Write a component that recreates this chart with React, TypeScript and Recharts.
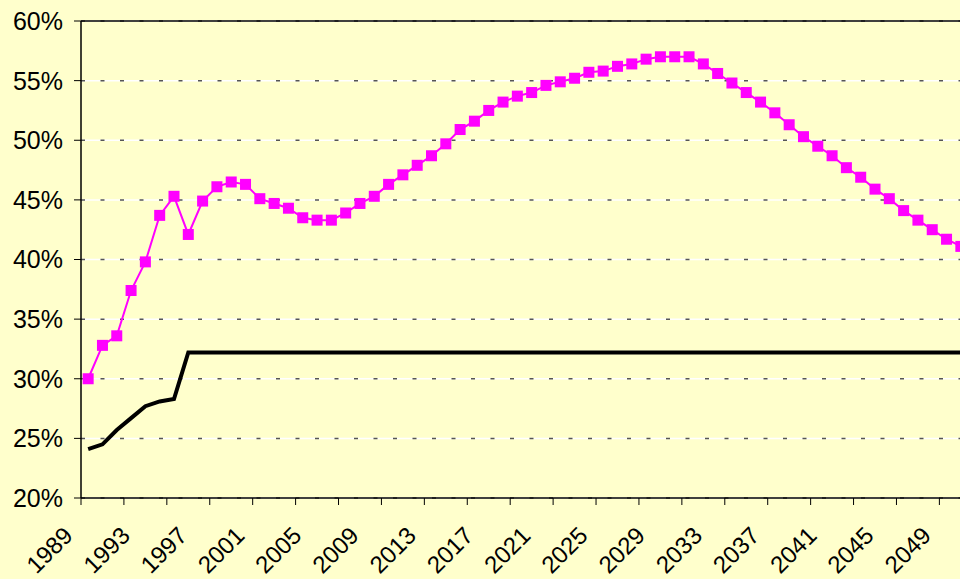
import React from "react";
import { LineChart, Line, XAxis, YAxis, CartesianGrid, ReferenceLine } from "recharts";

const years = [
  1989, 1990, 1991, 1992, 1993, 1994, 1995, 1996, 1997, 1998, 1999, 2000, 2001, 2002, 2003, 2004,
  2005, 2006, 2007, 2008, 2009, 2010, 2011, 2012, 2013, 2014, 2015, 2016, 2017, 2018, 2019, 2020,
  2021, 2022, 2023, 2024, 2025, 2026, 2027, 2028, 2029, 2030, 2031, 2032, 2033, 2034, 2035, 2036,
  2037, 2038, 2039, 2040, 2041, 2042, 2043, 2044, 2045, 2046, 2047, 2048, 2049, 2050,
];

const magentaSeries = [
  30.0, 32.8, 33.6, 37.4, 39.8, 43.7, 45.3, 42.1, 44.9, 46.1, 46.5, 46.3, 45.1, 44.7, 44.3, 43.5,
  43.3, 43.3, 43.9, 44.7, 45.3, 46.3, 47.1, 47.9, 48.7, 49.7, 50.9, 51.6, 52.5, 53.2, 53.7, 54.0,
  54.6, 54.9, 55.2, 55.7, 55.8, 56.2, 56.4, 56.8, 57.0, 57.0, 57.0, 56.4, 55.6, 54.8, 54.0, 53.2,
  52.3, 51.3, 50.3, 49.5, 48.7, 47.7, 46.9, 45.9, 45.1, 44.1, 43.3, 42.5, 41.7, 41.1,
];

const blackSeries = [
  24.1, 24.5, 25.7, 26.7, 27.7, 28.1, 28.3, 32.2, 32.2, 32.2, 32.2, 32.2, 32.2, 32.2, 32.2, 32.2,
  32.2, 32.2, 32.2, 32.2, 32.2, 32.2, 32.2, 32.2, 32.2, 32.2, 32.2, 32.2, 32.2, 32.2, 32.2, 32.2,
  32.2, 32.2, 32.2, 32.2, 32.2, 32.2, 32.2, 32.2, 32.2, 32.2, 32.2, 32.2, 32.2, 32.2, 32.2, 32.2,
  32.2, 32.2, 32.2, 32.2, 32.2, 32.2, 32.2, 32.2, 32.2, 32.2, 32.2, 32.2, 32.2, 32.2,
];

const yTicks = [20, 25, 30, 35, 40, 45, 50, 55, 60];
const labelYears = [1989, 1993, 1997, 2001, 2005, 2009, 2013, 2017, 2021, 2025, 2029, 2033, 2037, 2041, 2045, 2049];
const tickMarkYears = [
  1988.5, 1991.5, 1994.5, 1997.5, 2000.5, 2003.5, 2006.5, 2009.5, 2012.5, 2015.5, 2018.5,
  2021.5, 2024.5, 2027.5, 2030.5, 2033.5, 2036.5, 2039.5, 2042.5, 2045.5, 2048.5,
];

const data = years.map((year, i) => ({ year, magenta: magentaSeries[i], black: blackSeries[i] }));

const FONT = "Arial, 'Liberation Sans', sans-serif";
const MAGENTA = "#FF00FF";

const XTick = (props: any) => {
  const { x, y, payload } = props;
  const v = payload.value;
  if (!Number.isInteger(v)) {
    return <line x1={x} y1={y} x2={x} y2={y + 7} stroke="#000" strokeWidth={1} />;
  }
  const tx = x - 14;
  const ty = y + 39;
  return (
    <text
      x={tx}
      y={ty}
      transform={`rotate(-45, ${tx}, ${ty})`}
      textAnchor="end"
      fontFamily={FONT}
      fontSize={24}
      fill="#000"
    >
      {v}
    </text>
  );
};

const SquareDot = (props: any) => {
  const { cx, cy, index } = props;
  if (cx == null || cy == null) return <g key={`d${index}`} />;
  return <rect key={`d${index}`} x={cx - 5.5} y={cy - 5.5} width={11} height={11} fill={MAGENTA} />;
};

export default function App() {
  return (
    <div
      style={{
        position: "fixed",
        left: 0,
        top: 0,
        width: 960,
        height: 579,
        overflow: "hidden",
        background: "#FFFFCC",
      }}
    >
      <LineChart width={968} height={579} data={data} margin={{ top: 21, right: 0, left: 0, bottom: 0 }}>
        <CartesianGrid vertical={false} stroke="#FFFFFF" strokeWidth={1.5} />
        <CartesianGrid vertical={false} stroke="#555555" strokeDasharray="4 15.5" strokeWidth={1.5} />
        <XAxis
          dataKey="year"
          type="number"
          domain={[1988.5, 2050.5]}
          ticks={[...tickMarkYears, ...labelYears]}
          interval={0}
          allowDataOverflow
          tickLine={false}
          tickSize={0}
          tickMargin={0}
          tick={<XTick />}
          axisLine={{ stroke: "#000", strokeWidth: 1.5 }}
          height={81}
        />
        <YAxis
          domain={[20, 60]}
          ticks={yTicks}
          interval={0}
          width={81}
          tickSize={7}
          tickMargin={11}
          tickFormatter={(v: number) => `${v}%`}
          tick={{ fontFamily: FONT, fontSize: 25, fill: "#000" }}
          tickLine={{ stroke: "#000" }}
          axisLine={{ stroke: "#000", strokeWidth: 1.5 }}
        />
        <ReferenceLine y={60} stroke="#000" strokeWidth={1.5} />
        <Line
          type="linear"
          dataKey="black"
          stroke="#000"
          strokeWidth={4}
          dot={false}
          activeDot={false}
          isAnimationActive={false}
        />
        <Line
          type="linear"
          dataKey="magenta"
          stroke={MAGENTA}
          strokeWidth={2}
          dot={<SquareDot />}
          activeDot={false}
          isAnimationActive={false}
        />
      </LineChart>
    </div>
  );
}
